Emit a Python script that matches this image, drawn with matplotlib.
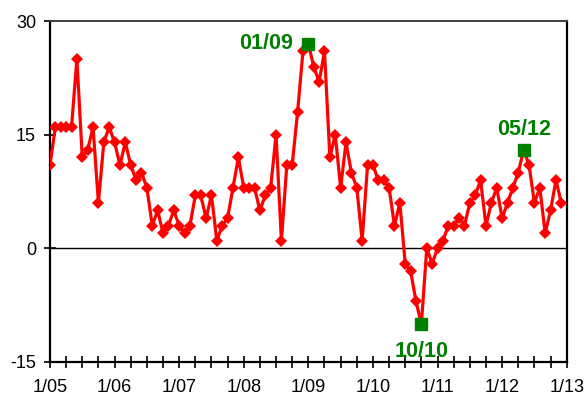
import numpy as np
import matplotlib
matplotlib.use("Agg")
from matplotlib import pyplot as plt
from matplotlib.ticker import MultipleLocator

# monthly values, Jan..Dec
y2005 = [11, 16, 16, 16, 16, 25, 12, 13, 16, 6, 14, 16]
y2006 = [14, 11, 14, 11, 9, 10, 8, 3, 5, 2, 3, 5]
y2007 = [3, 2, 3, 7, 7, 4, 7, 1, 3, 4, 8, 12]
y2008 = [8, 8, 8, 5, 7, 8, 15, 1, 11, 11, 18, 26]
y2009 = [27, 24, 22, 26, 12, 15, 8, 14, 10, 8, 1, 11]
y2010 = [11, 9, 9, 8, 3, 6, -2, -3, -7, -10, 0, -2]
y2011 = [0, 1, 3, 3, 4, 3, 6, 7, 9, 3, 6, 8]
y2012 = [4, 6, 8, 10, 13, 11, 6, 8, 2, 5, 9, 6]

year_labels = ['1/05', '1/06', '1/07', '1/08', '1/09', '1/10', '1/11', '1/12', '1/13']
y_ticks = [-15, 0, 15, 30]

# highlighted months (index from Jan 2005) and their labels
hl_idx = [48, 69, 88]
hl_text = ['01/09', '10/10', '05/12']

values = np.array(y2005 + y2006 + y2007 + y2008 + y2009 + y2010 + y2011 + y2012)
months = np.arange(len(values))

plt.rcParams['font.family'] = ['Liberation Sans', 'DejaVu Sans']
plt.rcParams['axes.unicode_minus'] = False

fig = plt.figure(figsize=(5.88, 3.98), dpi=100)
ax = fig.add_axes([0.085, 0.0905, 0.8788, 0.8565])

ax.axhline(0, color='black', lw=1.0, zorder=1)
ax.plot(months, values, color='#ff0000', lw=2.3, marker='D', markersize=6.3,
        markeredgewidth=0, zorder=3)

hx = months[hl_idx]
hy = values[hl_idx]
ax.plot(hx, hy, ls='none', marker='s', markersize=8.8, color='#008000', zorder=4)

green = '#008000'
ax.annotate(hl_text[0], (hx[0], hy[0]), xytext=(-11, 0), textcoords='offset points',
            ha='right', va='center', color=green, fontsize=15.5, fontweight='bold')
ax.annotate(hl_text[1], (hx[1], hy[1]), xytext=(0, -12), textcoords='offset points',
            ha='center', va='top', color=green, fontsize=15.5, fontweight='bold')
ax.annotate(hl_text[2], (hx[2], hy[2]), xytext=(0, 7), textcoords='offset points',
            ha='center', va='bottom', color=green, fontsize=15.5, fontweight='bold')

ax.set_xlim(0, 96)
ax.set_ylim(-15, 30)
ax.set_xticks(np.arange(0, 97, 12))
ax.set_xticklabels(year_labels)
ax.xaxis.set_minor_locator(MultipleLocator(3))
ax.set_yticks(y_ticks)

ax.tick_params(axis='both', which='both', direction='inout', length=8, width=1.2,
               labelsize=13, color='black')
ax.tick_params(axis='x', which='major', pad=8.5)
ax.tick_params(axis='y', which='major', pad=6)

for side in ['left', 'bottom', 'right']:
    ax.spines[side].set_linewidth(1.6)
    ax.spines[side].set_color('black')
ax.spines['top'].set_linewidth(1.4)
ax.spines['top'].set_color('#404040')

fig.savefig('out.png', dpi=100)
